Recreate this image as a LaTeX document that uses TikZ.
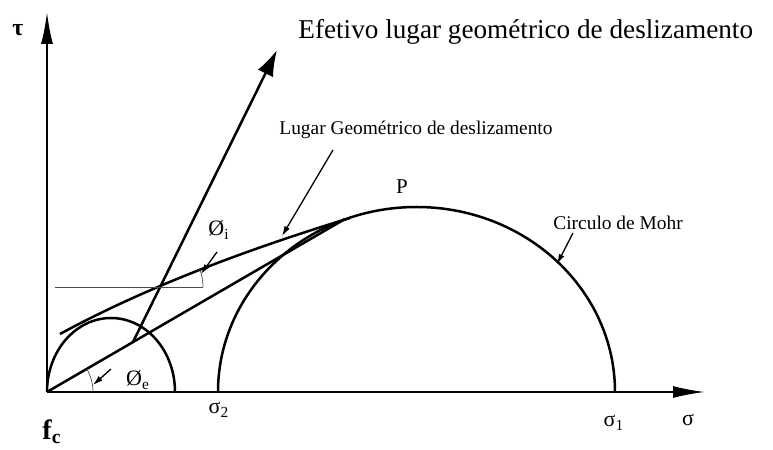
\documentclass[tikz,border=0pt]{standalone}
\usepackage{fontspec}
\setmainfont{Liberation Serif}
\usepackage{tikz}
\usetikzlibrary{
  arrows.meta,
  calc
}

\begin{document}
\begin{tikzpicture}[
  x=0.5pt, y=0.5pt,
  %% Axes with long filled heads
  axisarr/.style={line width=1pt, -{Latex[length=16pt,width=6pt]}},
  %% Thick drawn curves / envelope lines
  curve/.style={line width=1.25pt},
  %% Thin construction lines
  thinl/.style={line width=0.35pt, black!70},
  %% Small label pointers
  ptr/.style={line width=0.65pt, -{Latex[length=5pt,width=3pt]}},
  title/.style={inner sep=0pt, font=\fontsize{13.6}{16}\selectfont},
  note/.style={inner sep=0pt, font=\fontsize{9.7}{11}\selectfont},
  sym/.style={inner sep=0pt, font=\fontsize{11}{13}\selectfont}
]
\useasboundingbox (0,0) rectangle (773,450);

%% ---- Key points ----
\coordinate (O)     at (47,58);
\coordinate (yTop)  at (47,438);
\coordinate (xEnd)  at (705,58);
\coordinate (cS)    at (111,58);    % small circle centre
\coordinate (cL)    at (416.5,58);  % Mohr circle centre
\coordinate (T)     at (345,231);   % lines meet the Mohr circle
\coordinate (eS)    at (133,108);   % start of effective line
\coordinate (eE)    at (277,400);   % tip of effective line
\coordinate (hS)    at (55,163);
\coordinate (hE)    at (203,163);

%% ---- Axes ----
\draw[axisarr] (O) -- (yTop);
\draw[axisarr] (O) -- (xEnd);

%% ---- Circles ----
\draw[curve] (O) arc[start angle=180, end angle=0, x radius=64, y radius=74];
\draw[curve] ($(cL)+(-198.5,0)$)
  arc[start angle=180, end angle=0, x radius=198.5, y radius=185];

%% ---- Slip loci ----
\draw[curve] (60,116) .. controls (150,165) and (255,203) .. (350,232);
\draw[curve] (O) -- (T);
\draw[curve, -{Latex[length=13pt,width=8.5pt]}] (eS) -- (eE);

%% ---- Angle construction ----
\draw[thinl] (hS) -- (hE);
\draw[thinl] (hE) arc[start angle=0, end angle=22, radius=50];
\draw[thinl] (93,58) arc[start angle=0, end angle=30, radius=46];

%% ---- Labels ----
\node[sym, font=\fontsize{12}{14}\selectfont\bfseries] (tau) at (18,420) {τ};
\node[title, anchor=west] (efetivo) at (298,418)
  {Efetivo lugar geométrico de deslizamento};
\node[note, anchor=west] (lugar) at (279,320)
  {Lugar Geométrico de deslizamento};
\node[note, anchor=west] (mohr) at (553,227) {Circulo de Mohr};
\node[sym, font=\fontsize{10.5}{12}\selectfont] (P) at (402,263) {P};
\node[sym] (phii) at (219,220) {Ø\textsubscript{i}};
\node[sym] (phie) at (138,70) {Ø\textsubscript{e}};
\node[sym] (s2) at (219,40) {σ\textsubscript{2}};
\node[sym] (s1) at (614,27) {σ\textsubscript{1}};
\node[sym] (s)  at (688,30) {σ};
\node[sym, font=\fontsize{14}{16}\selectfont\bfseries] (fc) at (52,18)
  {f\textsubscript{c}};

%% ---- Pointers ----
\coordinate (lgA) at (333,300);
\coordinate (lgB) at (282,214);
\coordinate (moA) at (573,217);
\coordinate (moB) at (557,186);
\coordinate (piA) at (217,198);
\coordinate (piB) at (201,176);
\coordinate (peA) at (111,81);
\coordinate (peB) at (93,65);
\draw[ptr] (lgA) -- (lgB);
\draw[ptr] (moA) -- (moB);
\draw[ptr] (piA) -- (piB);
\draw[ptr] (peA) -- (peB);

\end{tikzpicture}
\end{document}
